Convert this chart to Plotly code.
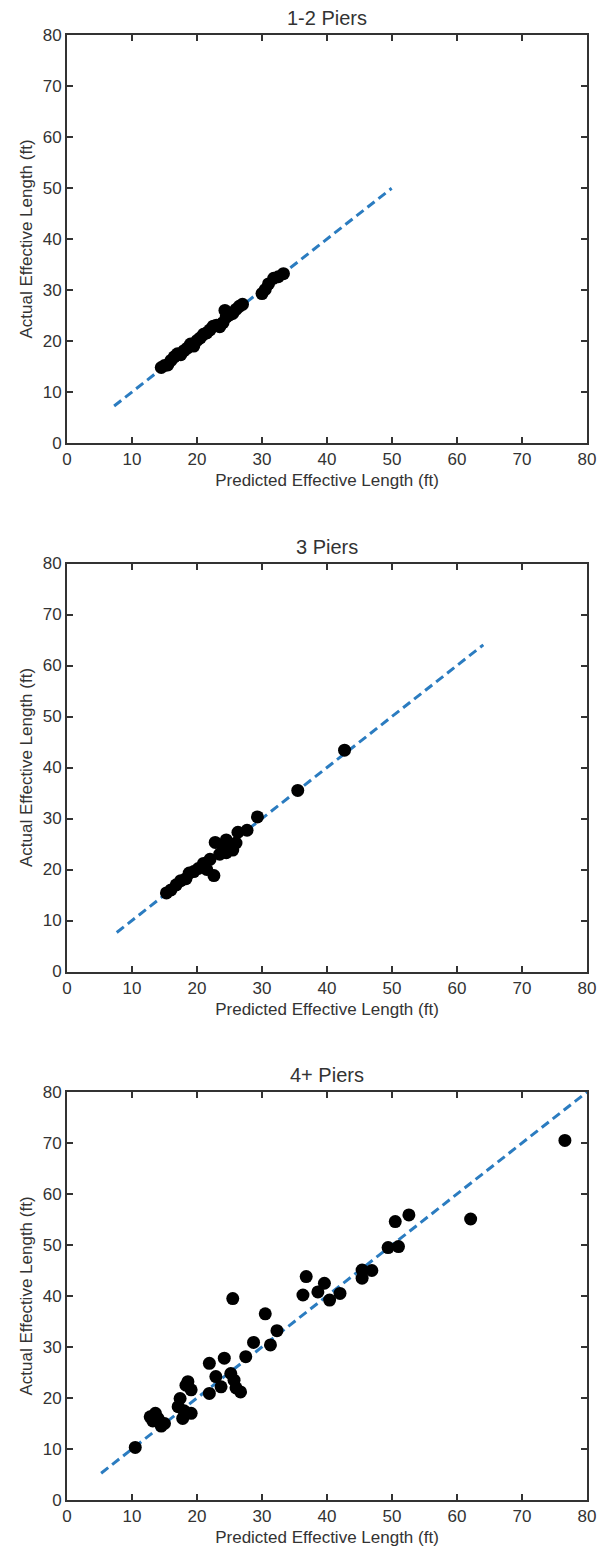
import plotly.graph_objects as go

# ---- data (predicted, actual) ----
pred_12 = [14.5, 15.0, 15.5, 16.0, 16.5, 17.0, 17.5, 18.0, 18.5, 19.0, 19.5, 20.0, 20.5, 21.0,
           21.5, 22.0, 22.5, 23.0, 23.5, 24.0, 24.3, 24.5, 25.0, 25.5, 26.0, 26.5, 27.0,
           30.0, 30.5, 31.0, 31.8, 32.5, 33.3]
act_12 = [14.8, 15.2, 15.3, 16.2, 16.9, 17.5, 17.3, 18.1, 18.6, 19.4, 19.0, 20.1, 20.6, 21.3,
          21.6, 22.2, 22.9, 23.1, 22.8, 23.6, 26.0, 24.7, 25.1, 25.4, 26.2, 26.8, 27.2,
          29.3, 30.1, 31.2, 32.3, 32.6, 33.2]

pred_3 = [15.3, 16.0, 16.8, 17.5, 18.3, 18.8, 19.5, 20.2, 21.0, 21.5, 22.0, 22.6, 22.8, 23.5,
          24.0, 24.5, 24.5, 25.0, 25.5, 26.0, 26.3, 27.7, 29.3, 35.5, 42.7]
act_3 = [15.4, 16.0, 17.0, 17.8, 18.2, 19.3, 19.6, 20.2, 21.2, 20.0, 22.0, 18.8, 25.3, 23.0,
         24.0, 25.8, 23.3, 24.5, 23.8, 25.2, 27.3, 27.7, 30.3, 35.5, 43.4]

pred_4 = [10.5, 12.8, 13.2, 13.6, 14.0, 14.5, 15.0, 17.1, 17.4, 17.8, 18.0, 18.6, 19.1, 19.1,
          18.3, 21.9, 21.9, 22.9, 23.7, 24.2, 25.2, 25.5, 25.7, 26.7, 26.0, 27.5, 28.7, 30.5,
          31.3, 32.3, 36.3, 36.8, 38.6, 39.6, 40.4, 42.0, 45.4, 45.4, 46.9, 49.4, 51.0, 50.5,
          52.6, 62.1, 76.6]
act_4 = [10.3, 16.3, 15.5, 17.0, 16.0, 14.5, 15.0, 18.3, 19.9, 16.0, 17.5, 23.2, 21.6, 17.0,
         22.5, 26.8, 20.9, 24.2, 22.2, 27.8, 24.8, 39.5, 23.5, 21.2, 22.0, 28.1, 30.9, 36.5,
         30.4, 33.2, 40.2, 43.8, 40.8, 42.5, 39.2, 40.5, 43.5, 45.1, 45.0, 49.5, 49.7, 54.6,
         55.9, 55.1, 70.5]

titles = ["1-2 Piers", "3 Piers", "4+ Piers"]
tick_vals = [0, 10, 20, 30, 40, 50, 60, 70, 80]
x_title = "Predicted Effective Length (ft)"
y_title = "Actual Effective Length (ft)"

panels = [(pred_12, act_12), (pred_3, act_3), (pred_4, act_4)]

# ---- layout geometry ----
W, H = 608, 1556
ML, MR, MT, MB = 67, 13, 35, 56
tops = [35, 563.5, 1092]
plot_h = 408
PH = H - MT - MB

TEXT = "#333333"
LINE = "#333333"
BLUE = "#2b7cc0"
FONT = "Liberation Sans, Arial, sans-serif"

fig = go.Figure()
layout = dict(
    width=W, height=H,
    margin=dict(l=ML, r=MR, t=MT, b=MB),
    paper_bgcolor="white", plot_bgcolor="white",
    showlegend=False,
    font=dict(family=FONT, color=TEXT, size=17),
    annotations=[],
)

for i, ((px, py), title) in enumerate(zip(panels, titles)):
    sfx = "" if i == 0 else str(i + 1)
    top = tops[i]
    bot = top + plot_h
    d0 = (H - MB - bot) / PH
    d1 = (H - MB - top) / PH
    lo = min(px) * 0.5
    hi = max(px) * 1.5
    fig.add_trace(go.Scatter(x=[lo, hi], y=[lo, hi], mode="lines",
                             line=dict(color=BLUE, width=3, dash="9px,5px"),
                             xaxis="x" + sfx, yaxis="y" + sfx, hoverinfo="skip"))
    fig.add_trace(go.Scatter(x=px, y=py, mode="markers",
                             marker=dict(color="black", size=13, line=dict(width=0)),
                             xaxis="x" + sfx, yaxis="y" + sfx, cliponaxis=True))
    ax = dict(range=[0, 80], tickvals=tick_vals, ticks="inside", ticklen=6, tickwidth=1.5,
              tickcolor=LINE, showline=True, linewidth=2, linecolor=LINE, mirror="ticks",
              showgrid=False, zeroline=False, tickfont=dict(size=17, color=TEXT))
    layout["xaxis" + sfx] = dict(ax, domain=[0, 1], anchor="y" + sfx,
                                 title=dict(text=x_title, font=dict(size=17, color=TEXT), standoff=6))
    layout["yaxis" + sfx] = dict(ax, domain=[d0, d1], anchor="x" + sfx,
                                 title=dict(text=y_title, font=dict(size=17, color=TEXT), standoff=6))
    layout["annotations"].append(dict(text=title, x=0.5, xref="paper", y=d1, yref="paper",
                                      yanchor="bottom", yshift=4, showarrow=False,
                                      font=dict(size=20, color=TEXT)))

fig.update_layout(**layout)
fig.write_html("out.html")
